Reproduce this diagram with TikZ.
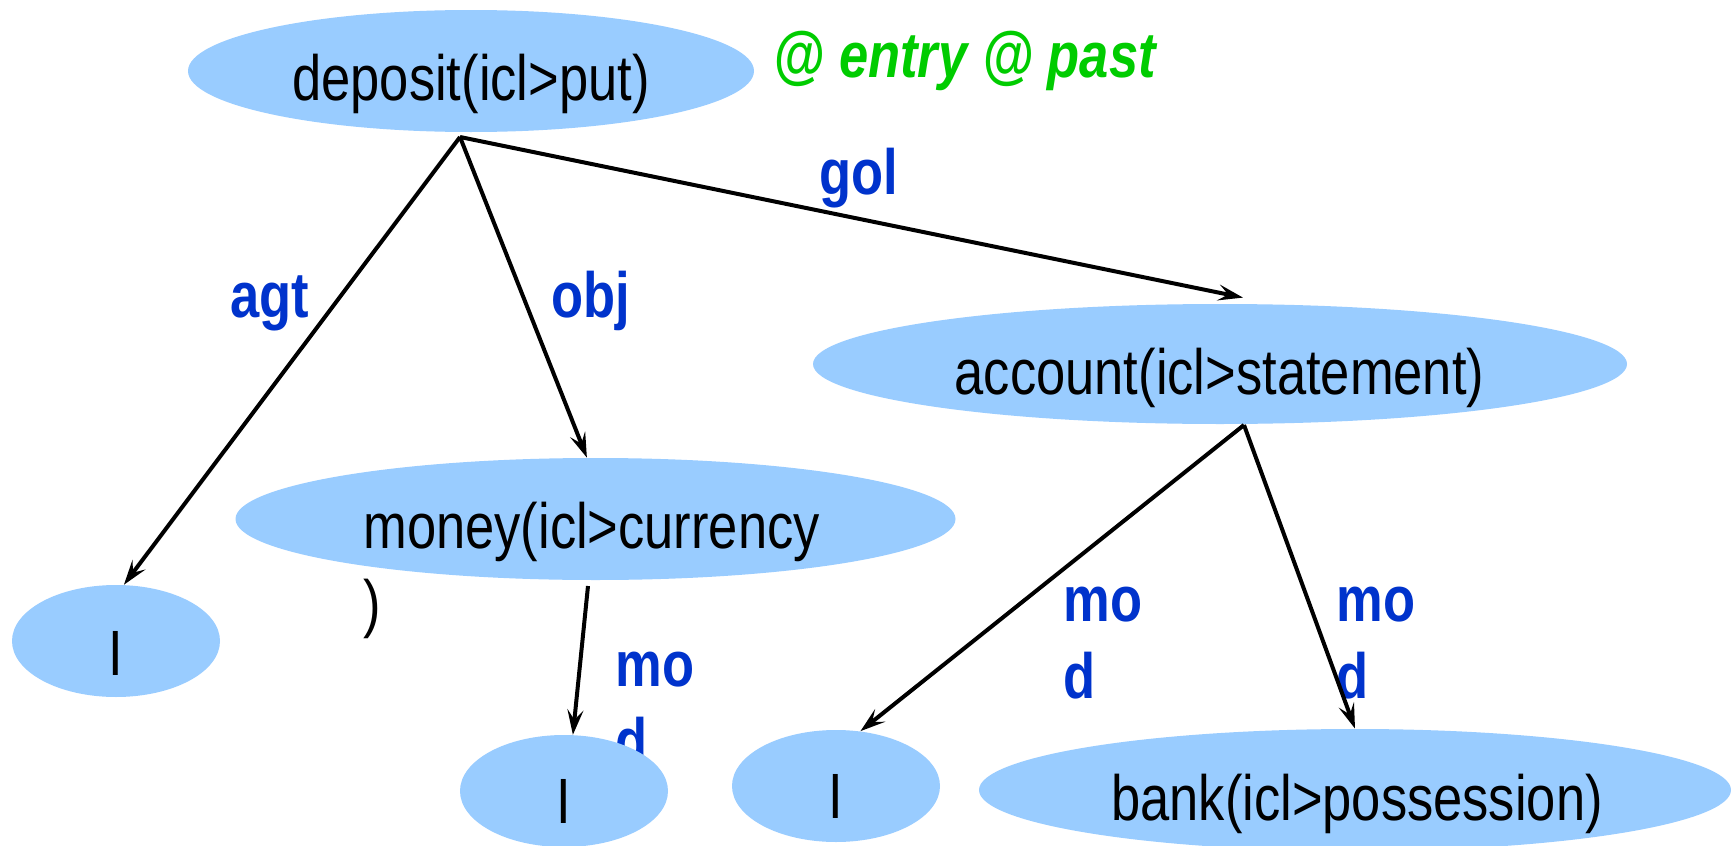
\documentclass[tikz,border=0pt]{standalone}
\usepackage{fontspec}
\setmainfont{Liberation Sans}[FakeStretch=0.82]
\usetikzlibrary{arrows.meta,shapes.geometric}
\definecolor{nodefill}{HTML}{99CCFF}
\definecolor{relblue}{HTML}{0033CC}
\definecolor{attrgreen}{HTML}{00CC00}
\begin{document}
\begin{tikzpicture}[x=0.5pt,y=-0.5pt,
  concept/.style={ellipse, fill=nodefill, inner sep=0pt},
  word/.style={inner sep=0pt, anchor=base, font=\fontsize{32}{38.5}\selectfont},
  rel/.style={inner sep=0pt, anchor=base west, align=left, text=relblue,
    font=\fontsize{32}{38.5}\selectfont\bfseries},
  link/.style={draw=black, line width=2pt,
    -{Stealth[length=12.5pt,width=8pt,inset=5pt]}},
]
\fill[white] (0,0) rectangle (1731,846);
\useasboundingbox (0,0) rectangle (1731,846);

% relation labels (drawn first, the concept nodes may cover them);
% a two-line label is placed by the baseline of its last line
\node[rel] (agt) at (230,317) {agt};
\node[rel] (obj) at (551,317) {obj};
\node[rel] (gol) at (819,194) {gol};
\node[rel] (mod-money) at (615,763) {mo\\d};
\node[rel] (mod-acc-i) at (1063,698) {mo\\d};
\node[rel] (mod-acc-bank) at (1336,698) {mo\\d};

% concept nodes
\node[concept, minimum width=283pt, minimum height=61pt] (deposit) at (471,71) {};
\node[concept, minimum width=407pt, minimum height=60pt] (account) at (1220,364) {};
\node[concept, minimum width=360pt, minimum height=61pt] (money) at (595.5,519) {};
\node[concept, minimum width=104pt, minimum height=56pt] (I1) at (116,641) {};
\node[concept, minimum width=104pt, minimum height=56pt] (I2) at (564,791) {};
\node[concept, minimum width=104pt, minimum height=56pt] (I3) at (836,786) {};
\node[concept, minimum width=376pt, minimum height=61pt] (bank) at (1355,790) {};

% concept texts
\node[word] (deposit-text) at (471,100) {deposit(icl>put)};
\node[word] (account-text) at (1219.5,394) {account(icl>statement)};
\node[word, anchor=base west, align=left] (money-text) at (363,625) {money(icl>currency\\)};
\node[word] (I1-text) at (116,675) {I};
\node[word] (I2-text) at (564,823) {I};
\node[word] (I3-text) at (836,818) {I};
\node[word] (bank-text) at (1357,820) {bank(icl>possession)};

\node[inner sep=0pt, anchor=base west, text=attrgreen,
  font=\fontsize{32}{38.5}\selectfont\bfseries\itshape] (attrs) at (773,77) {@ entry @ past};

% connector feet
\coordinate (deposit-foot) at (460,137);
\coordinate (account-foot) at (1244,425);
\coordinate (money-foot) at (588,586);

% connectors
\draw[link] (deposit-foot) -- (I1.82);
\draw[link] (deposit-foot) -- (money.98);
\draw[link] (deposit-foot) -- ([shift={(23,-6)}]account.north);
\draw[link] (account-foot) -- (I3.66);
\draw[link] (account-foot) -- (bank.north);
\draw[link] (money-foot) -- (I2.81);
\end{tikzpicture}
\end{document}
